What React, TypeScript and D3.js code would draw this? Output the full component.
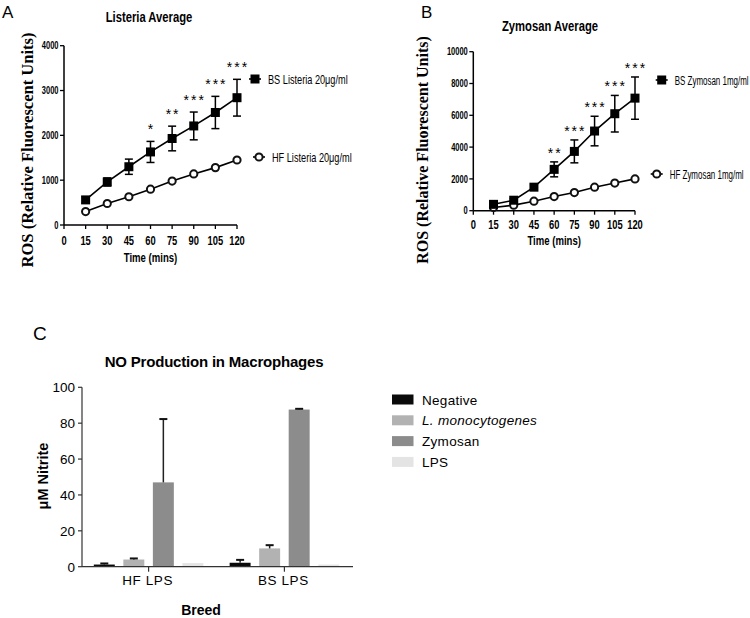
import React from "react";
import * as d3 from "d3";

// ---------- Data ----------
const times = [15, 30, 45, 60, 75, 90, 105, 120];
const xTicks = [0, 15, 30, 45, 60, 75, 90, 105, 120];

const bsListeria = [560, 960, 1300, 1630, 1930, 2210, 2510, 2840];
const bsListeriaErr = [70, 90, 170, 235, 275, 310, 360, 410];
const hfListeria = [300, 480, 630, 800, 980, 1140, 1280, 1450];
const hfListeriaErr = [30, 40, 40, 40, 40, 50, 50, 50];
const listeriaSig = ["", "", "", "*", "**", "***", "***", "***"];
const listeriaTicks = [0, 1000, 2000, 3000, 4000];

const bsZymosan = [400, 660, 1480, 2600, 3730, 5010, 6100, 7080];
const bsZymosanErr = [80, 100, 150, 470, 720, 930, 1150, 1330];
const hfZymosan = [200, 350, 600, 890, 1140, 1480, 1740, 2000];
const hfZymosanErr = [40, 50, 60, 60, 70, 80, 80, 90];
const zymosanSig = ["", "", "", "**", "***", "***", "***", "***"];
const zymosanTicks = [0, 2000, 4000, 6000, 8000, 10000];

const breeds = ["HF LPS", "BS LPS"];
const treatments = ["Negative", "L. monocytogenes", "Zymosan", "LPS"];
const hfNitrite = [1.2, 4.0, 47, 2.0];
const hfNitriteErr = [0.6, 0.6, 35.3, 0];
const bsNitrite = [2.2, 10.2, 87.6, 1.2];
const bsNitriteErr = [1.6, 1.8, 0.4, 0];
const nitriteTicks = [0, 20, 40, 60, 80, 100];
const treatmentColors = ["#0a0a0a", "#b2b2b2", "#8c8c8c", "#e4e4e4"];

// ---------- Fonts ----------
const SANS = "'Liberation Sans', Arial, Helvetica, sans-serif";
const SERIF = "'Liberation Serif', 'Times New Roman', serif";

// condensed text: Liberation Sans squeezed horizontally
function NT(props: any) {
  const { x, y, sx = 0.72, children, ...rest } = props;
  return (
    <text transform={`translate(${x},${y}) scale(${sx},1)`} fontFamily={SANS} {...rest}>
      {children}
    </text>
  );
}

type LineChartProps = {
  x0: number; x1: number; y0: number; y1: number; yMax: number; yTicks: number[];
  bs: number[]; bsErr: number[]; hf: number[]; hfErr: number[]; sig: string[];
  title: string; titleX: number; titleY: number;
  ylabX: number; ylabY: number; ylabSize: number;
  xlabY: number; tickLabY: number;
  bsLabel: string; hfLabel: string; legSx: number;
  bsLegX: number; bsLegY: number; hfLegX: number; hfLegY: number;
  starOffset: number; letter: string; letterX: number; letterY: number;
};

function LineChart(p: LineChartProps) {
  const x = d3.scaleLinear().domain([0, 120]).range([p.x0, p.x1]);
  const y = d3.scaleLinear().domain([0, p.yMax]).range([p.y0, p.y1]);
  const line = d3.line<number>().x((_, i) => x(times[i])).y((d) => y(d));
  const sq = 4.5;
  return (
    <g>
      <text x={p.letterX} y={p.letterY} fontFamily={SANS} fontSize={17}>{p.letter}</text>
      <NT x={p.titleX} y={p.titleY} sx={0.75} textAnchor="middle" fontWeight="bold" fontSize={15}>{p.title}</NT>
      <text transform={`translate(${p.ylabX},${p.ylabY}) rotate(-90)`} textAnchor="middle" fontFamily={SERIF} fontWeight="bold" fontSize={p.ylabSize}>ROS (Relative Fluorescent Units)</text>
      {/* axes */}
      <line x1={p.x0} x2={p.x0} y1={p.y0} y2={y(p.yMax)} stroke="#000" strokeWidth={1.5} />
      <line x1={p.x0} x2={p.x1} y1={p.y0} y2={p.y0} stroke="#000" strokeWidth={1.5} />
      {p.yTicks.map((t) => (
        <g key={"y" + t}>
          <line x1={p.x0 - 4} x2={p.x0} y1={y(t)} y2={y(t)} stroke="#000" strokeWidth={1.3} />
          <NT x={p.x0 - 5.5} y={y(t) + 3.6} sx={0.75} textAnchor="end" fontWeight="bold" fontSize={10}>{t}</NT>
        </g>
      ))}
      {xTicks.map((t) => (
        <g key={"x" + t}>
          <line x1={x(t)} x2={x(t)} y1={p.y0} y2={p.y0 + 4} stroke="#000" strokeWidth={1.3} />
          <NT x={x(t)} y={p.tickLabY} textAnchor="middle" fontWeight="bold" fontSize={13}>{t}</NT>
        </g>
      ))}
      <NT x={(p.x0 + p.x1) / 2} y={p.xlabY} sx={0.71} textAnchor="middle" fontWeight="bold" fontSize={13.5}>Time (mins)</NT>
      {/* HF series */}
      <path d={line(p.hf) || ""} fill="none" stroke="#000" strokeWidth={1.6} />
      {p.hf.map((v, i) => (
        <line key={"he" + i} x1={x(times[i])} x2={x(times[i])} y1={y(v - p.hfErr[i])} y2={y(v + p.hfErr[i])} stroke="#000" strokeWidth={1.3} />
      ))}
      {p.hf.map((v, i) => (
        <circle key={"hc" + i} cx={x(times[i])} cy={y(v)} r={3.6} fill="#fff" stroke="#111" strokeWidth={2} />
      ))}
      {/* BS series */}
      <path d={line(p.bs) || ""} fill="none" stroke="#000" strokeWidth={1.6} />
      {p.bs.map((v, i) => {
        const cx = x(times[i]);
        const top = y(v + p.bsErr[i]);
        const bot = y(v - p.bsErr[i]);
        return (
          <g key={"be" + i}>
            <line x1={cx} x2={cx} y1={top} y2={bot} stroke="#000" strokeWidth={1.5} />
            <line x1={cx - 4} x2={cx + 4} y1={top} y2={top} stroke="#000" strokeWidth={1.5} />
            <line x1={cx - 4} x2={cx + 4} y1={bot} y2={bot} stroke="#000" strokeWidth={1.5} />
            <rect x={cx - sq} y={y(v) - sq} width={sq * 2} height={sq * 2} fill="#000" />
            {p.sig[i] && (
              <text x={cx + 1} y={top - p.starOffset} textAnchor="middle" fontFamily={SANS} fontSize={14} letterSpacing={2}>{p.sig[i]}</text>
            )}
          </g>
        );
      })}
      {/* legend */}
      <line x1={p.bsLegX - 6} x2={p.bsLegX + 6} y1={p.bsLegY} y2={p.bsLegY} stroke="#000" strokeWidth={1.6} />
      <rect x={p.bsLegX - sq} y={p.bsLegY - sq} width={sq * 2} height={sq * 2} fill="#000" />
      <NT x={p.bsLegX + 13} y={p.bsLegY + 5} sx={p.legSx} fontSize={13.5}>{p.bsLabel}</NT>
      <line x1={p.hfLegX - 6} x2={p.hfLegX + 6} y1={p.hfLegY} y2={p.hfLegY} stroke="#000" strokeWidth={1.6} />
      <circle cx={p.hfLegX} cy={p.hfLegY} r={3.6} fill="#fff" stroke="#111" strokeWidth={2} />
      <NT x={p.hfLegX + 13} y={p.hfLegY + 5} sx={p.legSx} fontSize={13.5}>{p.hfLabel}</NT>
    </g>
  );
}

function BarChart() {
  const x0 = 80, x1 = 353, yBase = 566.7, yTop = 387.3;
  const xb = d3.scaleBand<string>().domain(breeds).range([x0, x1]).paddingInner(0.15).paddingOuter(0.08);
  const xi = d3.scaleBand<string>().domain(treatments).range([0, xb.bandwidth()]).paddingInner(0.29).paddingOuter(0.1);
  const y = d3.scaleLinear().domain([0, 100]).range([yBase, yTop]);
  const vals = [hfNitrite, bsNitrite];
  const errs = [hfNitriteErr, bsNitriteErr];
  return (
    <g>
      <text x={33} y={340} fontFamily={SANS} fontSize={19}>C</text>
      <text x={214} y={366.5} textAnchor="middle" fontFamily={SANS} fontWeight="bold" fontSize={15} letterSpacing={-0.2}>NO  Production in Macrophages</text>
      <text transform={`translate(48,${476}) rotate(-90)`} textAnchor="middle" fontFamily={SANS} fontWeight="bold" fontSize={14.5}>μM Nitrite</text>
      {breeds.map((b, gi) => (
        <g key={b} transform={`translate(${xb(b)},0)`}>
          {treatments.map((t, ti) => {
            const v = vals[gi][ti];
            const e = errs[gi][ti];
            const bx = xi(t)!;
            const cx = bx + xi.bandwidth() / 2;
            return (
              <g key={t}>
                <rect x={bx} y={y(v)} width={xi.bandwidth()} height={yBase - y(v)} fill={treatmentColors[ti]} />
                {e > 0 && (
                  <g>
                    <line x1={cx} x2={cx} y1={y(v)} y2={y(v + e)} stroke="#222" strokeWidth={1.5} />
                    <line x1={cx - 4} x2={cx + 4} y1={y(v + e)} y2={y(v + e)} stroke="#111" strokeWidth={2} />
                  </g>
                )}
              </g>
            );
          })}
        </g>
      ))}
      <line x1={x0 + 2} x2={x0 + 2} y1={yBase} y2={yTop} stroke="#333" strokeWidth={1.2} />
      <line x1={x0 + 2} x2={x1} y1={yBase} y2={yBase} stroke="#333" strokeWidth={1.2} />
      {nitriteTicks.map((t) => (
        <g key={t}>
          <line x1={x0 - 2} x2={x0 + 2} y1={y(t)} y2={y(t)} stroke="#333" strokeWidth={1.2} />
          <text x={x0 - 5} y={y(t) + 5} textAnchor="end" fontFamily={SANS} fontSize={13.5}>{t}</text>
        </g>
      ))}
      {breeds.map((b) => {
        const cx = xb(b)! + xb.bandwidth() / 2;
        return (
          <g key={"l" + b}>
            <line x1={cx} x2={cx} y1={yBase} y2={yBase + 5} stroke="#333" strokeWidth={1.2} />
            <text x={cx - 1} y={585} textAnchor="middle" fontFamily={SANS} fontSize={13.5} letterSpacing={0.6}>{b}</text>
          </g>
        );
      })}
      <text x={201} y={615} textAnchor="middle" fontFamily={SANS} fontWeight="bold" fontSize={14}>Breed</text>
      {treatments.map((t, i) => {
        const ly = 399.5 + i * 20.8;
        return (
          <g key={"lg" + t}>
            <rect x={392} y={ly - 5} width={21.5} height={10} fill={treatmentColors[i]} />
            <text x={422} y={ly + 5} fontFamily={SANS} fontSize={13.5} fontStyle={i === 1 ? "italic" : "normal"} letterSpacing={0.3}>{t}</text>
          </g>
        );
      })}
    </g>
  );
}

export default function App() {
  return (
    <svg width={750} height={618} style={{ display: "block", position: "absolute", left: 0, top: 0, background: "#fff" }}>
      <rect width={750} height={618} fill="#fff" />
      <LineChart
        x0={64} x1={237} y0={225} y1={45.7} yMax={4000} yTicks={listeriaTicks}
        bs={bsListeria} bsErr={bsListeriaErr} hf={hfListeria} hfErr={hfListeriaErr} sig={listeriaSig}
        title="Listeria Average" titleX={149} titleY={22}
        ylabX={33} ylabY={150} ylabSize={16.5}
        xlabY={262} tickLabY={245}
        bsLabel="BS Listeria 20μg/ml" hfLabel="HF Listeria 20μg/ml" legSx={0.68}
        bsLegX={255} bsLegY={79} hfLegX={259} hfLegY={157}
        starOffset={7} letter="A" letterX={2} letterY={18}
      />
      <LineChart
        x0={473.3} x1={635} y0={210.7} y1={51.7} yMax={10000} yTicks={zymosanTicks}
        bs={bsZymosan} bsErr={bsZymosanErr} hf={hfZymosan} hfErr={hfZymosanErr} sig={zymosanSig}
        title="Zymosan Average" titleX={550} titleY={30.5}
        ylabX={428} ylabY={150} ylabSize={16}
        xlabY={245} tickLabY={229}
        bsLabel="BS Zymosan 1mg/ml" hfLabel="HF Zymosan 1mg/ml" legSx={0.59}
        bsLegX={661.7} bsLegY={80} hfLegX={656.7} hfLegY={174}
        starOffset={4} letter="B" letterX={421} letterY={18}
      />
      <BarChart />
    </svg>
  );
}
